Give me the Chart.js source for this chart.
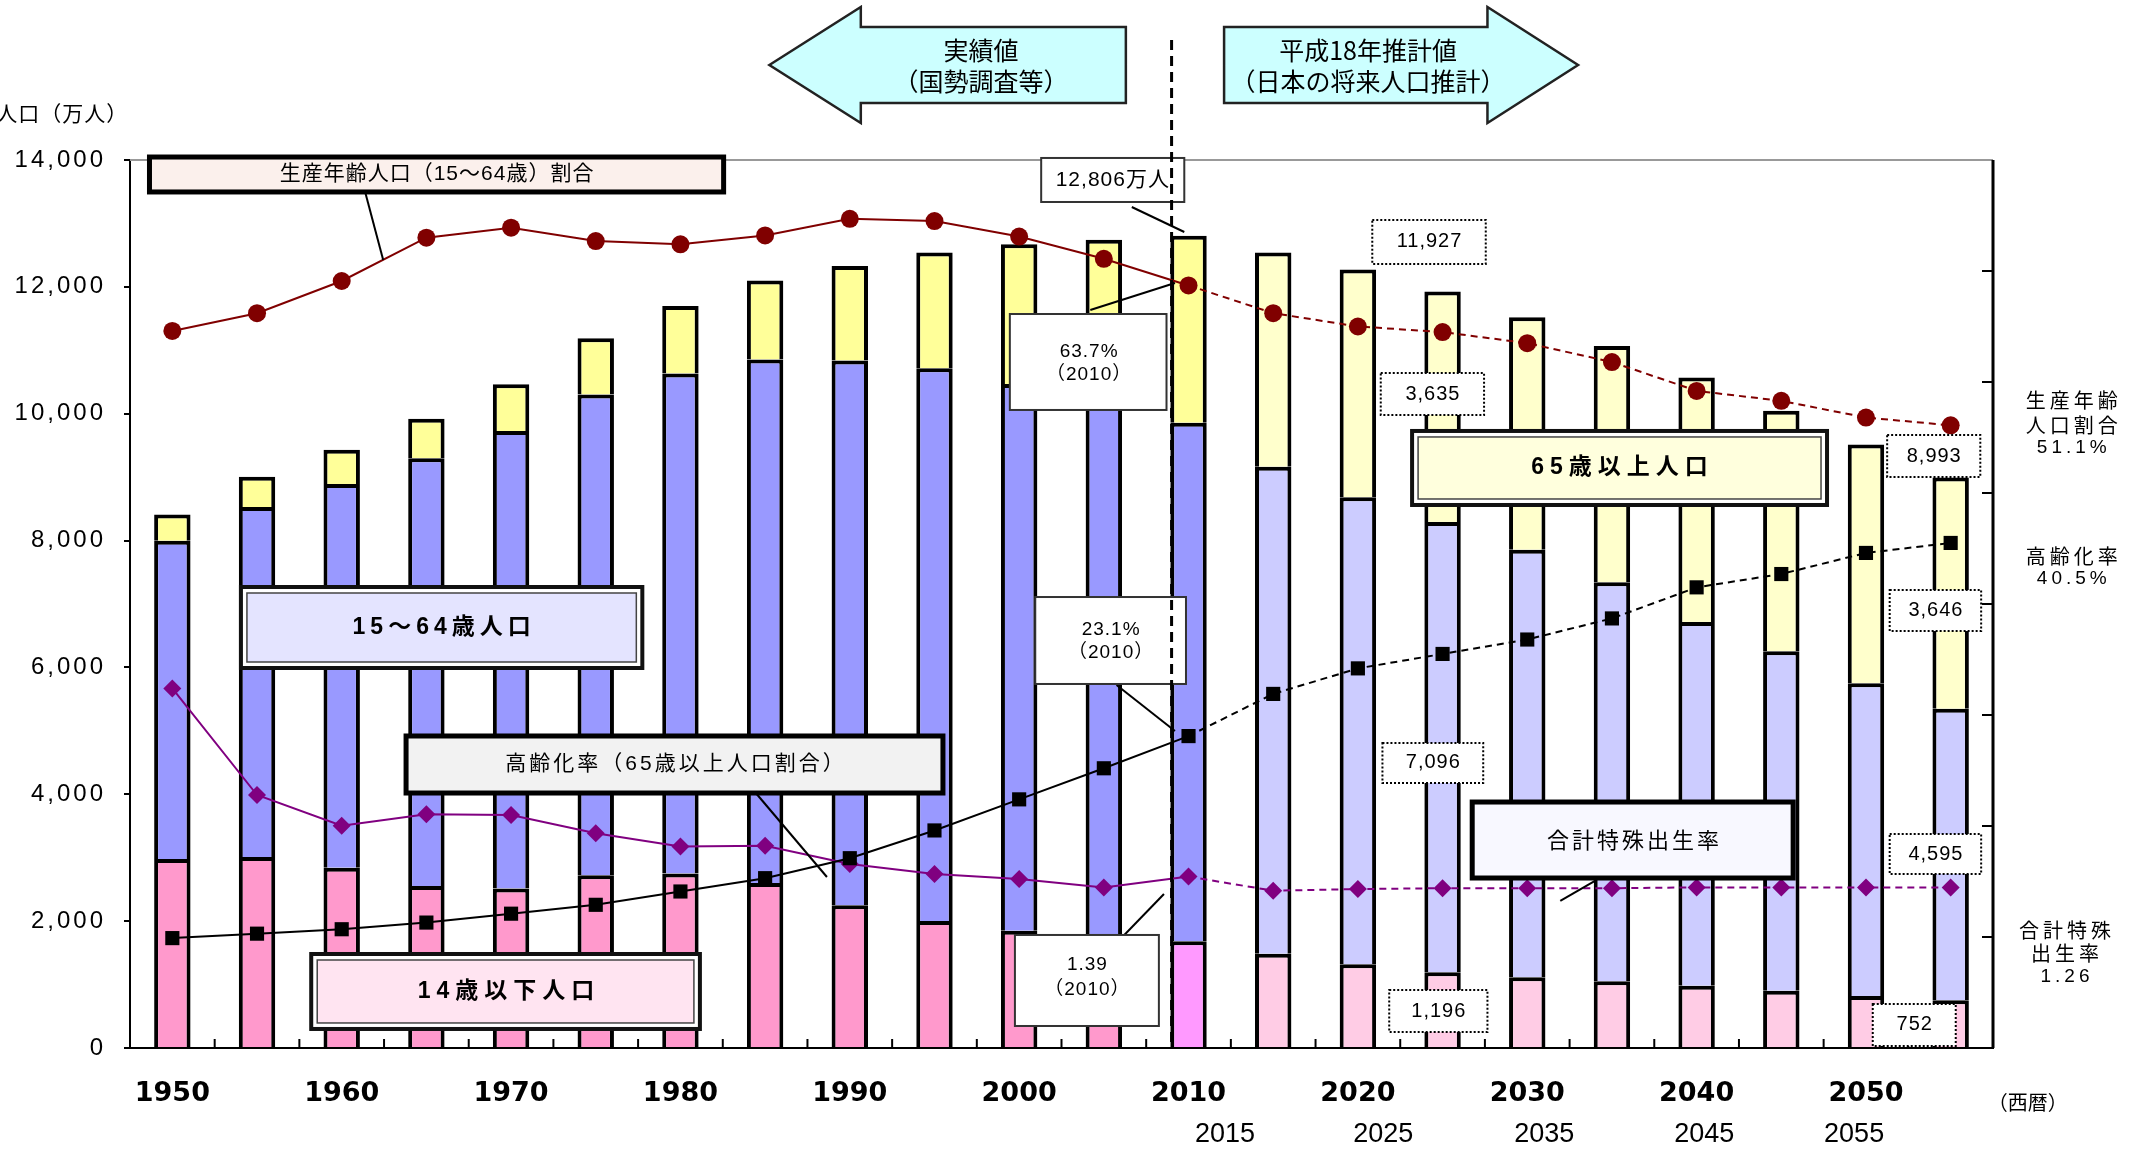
<!DOCTYPE html>
<html lang="ja">
<head>
<meta charset="utf-8">
<script src="https://cdn.jsdelivr.net/npm/chart.js@4.4.1/dist/chart.umd.min.js"></script>
<style>
  html, body { margin: 0; padding: 0; background: #fff; }
  #chart { display: block; }
</style>
</head>
<body>
<canvas id="chart" width="2132" height="1153"></canvas>
<script>
// 年次（5年ごと）
const years = [1950, 1955, 1960, 1965, 1970, 1975, 1980, 1985, 1990, 1995, 2000,
  2005, 2010, 2015, 2020, 2025, 2030, 2035, 2040, 2045, 2050, 2055];

// 人口（万人）
const pop0to14 = [2979, 3012, 2843, 2553, 2515, 2722, 2751, 2603, 2249, 2001, 1847,
  1759, 1684, 1484, 1320, 1196, 1115, 1051, 983, 904, 821, 752];
const pop15to64 = [5017, 5517, 6047, 6744, 7212, 7581, 7884, 8251, 8590, 8716, 8622,
  8409, 8173, 7681, 7364, 7096, 6740, 6292, 5734, 5353, 4930, 4595];
const pop65over = [416, 479, 540, 624, 739, 887, 1065, 1247, 1489, 1826, 2204,
  2576, 2948, 3378, 3590, 3635, 3667, 3725, 3853, 3788, 3764, 3646];

// 割合（％）と合計特殊出生率
const workingShare = [59.6, 61.2, 64.1, 68.0, 68.9, 67.7, 67.4, 68.2, 69.7, 69.5, 68.1,
  66.1, 63.7, 61.2, 60.0, 59.5, 58.5, 56.8, 54.2, 53.3, 51.8, 51.1];
const agingRate = [4.9, 5.3, 5.7, 6.3, 7.1, 7.9, 9.1, 10.3, 12.1, 14.6, 17.4,
  20.2, 23.1, 26.9, 29.2, 30.5, 31.8, 33.7, 36.5, 37.7, 39.6, 40.5];
const fertility = [3.65, 2.37, 2.00, 2.14, 2.13, 1.91, 1.75, 1.76, 1.54, 1.42, 1.36,
  1.26, 1.39, 1.22, 1.24, 1.25, 1.25, 1.25, 1.26, 1.26, 1.26, 1.26];

// 2段目の年ラベル
const lowerYears = [2015, 2025, 2035, 2045, 2055];

const LAST_ACTUAL = 2005;
const CENSUS = 2010;

const JP = '"Noto Sans CJK JP", sans-serif';
const MIX = '"Liberation Sans", "Noto Sans CJK JP", sans-serif';

// 実績・2010年・推計で色を変える
function colorsFor(actual, census, future) {
  return years.map(yr => yr <= LAST_ACTUAL ? actual : (yr === CENSUS ? census : future));
}

const dashAfter2010 = c => years[c.p0DataIndex] >= CENSUS ? [7, 5] : undefined;

// 注記（位置は x=カテゴリ番号, v=人口（万人）の座標）
const overlay = {
  id: 'overlay',
  afterDatasetsDraw(chart) {
    const { ctx, chartArea: a } = chart;
    const xs = chart.scales.x, ys = chart.scales.y, yp = chart.scales.yp;
    const X = v => xs.getPixelForValue(v);
    const Y = v => ys.getPixelForValue(v);

    function text(str, xi, v, font, opt = {}) {
      ctx.save();
      ctx.font = font;
      ctx.fillStyle = opt.color || '#000';
      ctx.textAlign = opt.align || 'center';
      ctx.textBaseline = 'middle';
      let px = X(xi);
      if (opt.spacing) {
        ctx.letterSpacing = opt.spacing + 'px';
        if ((opt.align || 'center') === 'center') px += opt.spacing / 2;
      }
      ctx.fillText(str, px, Y(v));
      ctx.restore();
    }

    function line(x0, v0, x1, v1, w = 2, dash = []) {
      ctx.save();
      ctx.strokeStyle = '#000';
      ctx.lineWidth = w;
      ctx.setLineDash(dash);
      ctx.beginPath();
      ctx.moveTo(X(x0), Y(v0));
      ctx.lineTo(X(x1), Y(v1));
      ctx.stroke();
      ctx.restore();
    }

    function box(x0, x1, vTop, vBot, kind, fill) {
      const l = X(x0), r = X(x1), t = Y(vTop), b = Y(vBot);
      ctx.save();
      if (kind === 'double') {
        ctx.fillStyle = '#fff';
        ctx.fillRect(l, t, r - l, b - t);
        ctx.strokeStyle = '#111';
        ctx.lineWidth = 4;
        ctx.strokeRect(l, t, r - l, b - t);
        ctx.fillStyle = fill;
        ctx.fillRect(l + 6, t + 6, r - l - 12, b - t - 12);
        ctx.strokeStyle = '#444';
        ctx.lineWidth = 1.5;
        ctx.strokeRect(l + 6, t + 6, r - l - 12, b - t - 12);
      } else if (kind === 'thick') {
        ctx.fillStyle = fill;
        ctx.fillRect(l, t, r - l, b - t);
        ctx.strokeStyle = '#000';
        ctx.lineWidth = 5;
        ctx.strokeRect(l, t, r - l, b - t);
      } else if (kind === 'dotted') {
        ctx.fillStyle = '#fff';
        ctx.fillRect(l, t, r - l, b - t);
        ctx.strokeStyle = '#000';
        ctx.lineWidth = 2;
        ctx.setLineDash([2, 2]);
        ctx.strokeRect(l, t, r - l, b - t);
      } else {
        ctx.fillStyle = '#fff';
        ctx.fillRect(l, t, r - l, b - t);
        ctx.strokeStyle = '#333';
        ctx.lineWidth = 2;
        ctx.strokeRect(l, t, r - l, b - t);
      }
      ctx.restore();
    }

    function poly(pts) {
      ctx.save();
      ctx.beginPath();
      pts.forEach(([xi, v], i) => i ? ctx.lineTo(X(xi), Y(v)) : ctx.moveTo(X(xi), Y(v)));
      ctx.closePath();
      ctx.fillStyle = '#CCFFFF';
      ctx.fill();
      ctx.strokeStyle = '#222';
      ctx.lineWidth = 2.5;
      ctx.stroke();
      ctx.restore();
    }

    // 枠線（上は灰色、右は黒）と目盛り
    ctx.save();
    ctx.strokeStyle = '#999';
    ctx.lineWidth = 2;
    ctx.beginPath();
    ctx.moveTo(a.left, a.top);
    ctx.lineTo(a.right, a.top);
    ctx.stroke();
    ctx.strokeStyle = '#000';
    ctx.lineWidth = 3;
    ctx.beginPath();
    ctx.moveTo(a.right, a.top);
    ctx.lineTo(a.right, a.bottom);
    ctx.stroke();
    ctx.lineWidth = 2;
    for (let p = 5; p < 75; p += 10) {
      const py = yp.getPixelForValue(p);
      ctx.beginPath();
      ctx.moveTo(a.right, py);
      ctx.lineTo(a.right - 11, py);
      ctx.stroke();
    }
    for (let i = 0; i < years.length - 1; i++) {
      const px = X(i + 0.5);
      ctx.beginPath();
      ctx.moveTo(px, a.bottom);
      ctx.lineTo(px, a.bottom - 9);
      ctx.stroke();
    }
    ctx.restore();

    // 縦軸の目盛りラベル（字間を空ける）
    ctx.save();
    ctx.font = '24px "Liberation Sans", sans-serif';
    ctx.letterSpacing = '3px';
    ctx.fillStyle = '#000';
    ctx.textAlign = 'right';
    ctx.textBaseline = 'middle';
    ys.ticks.forEach(t => {
      ctx.fillText(t.value.toLocaleString('en-US'), a.left - 24, ys.getPixelForValue(t.value));
    });
    ctx.restore();

    // 上部の矢印
    poly([[7.05, 15498], [8.13, 16412], [8.13, 16097], [11.26, 16097],
      [11.26, 14899], [8.13, 14899], [8.13, 14583]]);
    text('実績値', 9.55, 15734, '25px ' + JP);
    text('（国勢調査等）', 9.55, 15230, '25px ' + JP);
    poly([[12.42, 16097], [15.53, 16097], [15.53, 16412], [16.6, 15498],
      [15.53, 14583], [15.53, 14899], [12.42, 14899]]);
    text('平成18年推計値', 14.12, 15734, '25px ' + JP);
    text('（日本の将来人口推計）', 14.12, 15230, '25px ' + JP);

    text('人口（万人）', -2.08, 14741, '21px ' + JP, { align: 'left', spacing: 1 });
    text('（西暦）', 21.91, -851, '20px ' + JP);

    // 系列名の枠
    line(2.28, 13480, 2.49, 12423);
    box(-0.27, 6.51, 14047, 13496, 'thick', '#FBF0EC');
    text('生産年齢人口（15～64歳）割合', 3.12, 13772, '21px ' + MIX, { spacing: 1 });

    box(0.81, 5.55, 7268, 5991, 'double', '#E4E4FF');
    text('15～64歳人口', 3.18, 6630, 'bold 23px ' + MIX, { spacing: 5 });

    line(6.88, 4036, 7.73, 2696);
    box(2.76, 9.10, 4919, 4020, 'thick', '#F2F2F2');
    text('高齢化率（65歳以上人口割合）', 5.93, 4470, '21px ' + MIX, { spacing: 3 });

    box(1.64, 6.23, 1482, 300, 'double', '#FFE4F1');
    text('14歳以下人口', 3.94, 891, 'bold 23px ' + MIX, { spacing: 6 });

    box(14.64, 19.54, 9728, 8561, 'double', '#FFFFDD');
    text('65歳以上人口', 17.09, 9145, 'bold 23px ' + MIX, { spacing: 6 });

    line(16.82, 2649, 16.39, 2318);
    box(15.35, 19.14, 3878, 2680, 'thick', '#F8F8FF');
    text('合計特殊出生率', 17.25, 3279, '22px ' + JP, { spacing: 3 });

    // 2010年の値
    line(11.33, 13259, 11.95, 12865);
    box(10.26, 11.95, 14032, 13338, 'plain');
    text('12,806万人', 11.1, 13685, '21px ' + MIX, { spacing: 1 });

    line(10.84, 11635, 11.84, 12061);
    box(9.89, 11.74, 11572, 10059, 'plain');
    text('63.7%', 10.82, 10973, '19px ' + MIX, { spacing: 1 });
    text('（2010）', 10.82, 10611, '19px ' + MIX, { spacing: 1 });

    line(11.15, 5723, 11.84, 4998);
    box(10.19, 11.97, 7110, 5739, 'plain');
    text('23.1%', 11.08, 6590, '19px ' + MIX, { spacing: 1 });
    text('（2010）', 11.08, 6227, '19px ' + MIX, { spacing: 1 });

    line(11.23, 1766, 11.71, 2428);
    box(9.95, 11.65, 1782, 347, 'plain');
    text('1.39', 10.8, 1309, '19px ' + MIX, { spacing: 1 });
    text('（2010）', 10.8, 914, '19px ' + MIX, { spacing: 1 });

    // 推計値の数字
    const callouts = [
      ['11,927', 14.17, 15.51, 13054, 12361],
      ['3,635', 14.27, 15.49, 10642, 9980],
      ['8,993', 20.25, 21.35, 9665, 9002],
      ['3,646', 20.28, 21.36, 7221, 6574],
      ['7,096', 14.29, 15.48, 4809, 4178],
      ['4,595', 20.28, 21.36, 3374, 2743],
      ['1,196', 14.37, 15.53, 914, 252],
      ['752', 20.08, 21.06, 694, 32]
    ];
    callouts.forEach(([s, x0, x1, v0, v1]) => {
      box(x0, x1, v0, v1, 'dotted');
      text(s, (x0 + x1) / 2, (v0 + v1) / 2, '20px ' + MIX, { spacing: 1 });
    });

    // 右側の説明
    const side = { spacing: 4 };
    text('生産年齢', 22.43, 10216, '20px ' + JP, side);
    text('人口割合', 22.43, 9822, '20px ' + JP, side);
    text('51.1%', 22.43, 9460, '19px ' + MIX, side);
    text('高齢化率', 22.43, 7757, '20px ' + JP, side);
    text('40.5%', 22.43, 7394, '19px ' + MIX, side);
    text('合計特殊', 22.35, 1860, '20px ' + JP, side);
    text('出生率', 22.35, 1498, '20px ' + JP, side);
    text('1.26', 22.35, 1119, '19px ' + MIX, side);

    // 2段目の年
    const lowerPos = [12.43, 14.3, 16.2, 18.09, 19.86];
    lowerYears.forEach((yr, i) => text(String(yr), lowerPos[i], -1372, '27px "Liberation Sans", sans-serif'));

    // 実績と推計の境目
    line(11.8, 15892, 11.8, 0, 3, [10, 6]);
  }
};

new Chart(document.getElementById('chart'), {
  data: {
    labels: years,
    datasets: [
      {
        type: 'line', label: '生産年齢人口割合', data: workingShare, yAxisID: 'yp',
        borderColor: '#800000', backgroundColor: '#800000', borderWidth: 2,
        pointStyle: 'circle', pointRadius: 9, pointBorderWidth: 0,
        segment: { borderDash: dashAfter2010 }, order: 0
      },
      {
        type: 'line', label: '高齢化率', data: agingRate, yAxisID: 'yp',
        borderColor: '#000', backgroundColor: '#000', borderWidth: 2,
        pointStyle: 'rect', pointRadius: 10, pointBorderWidth: 0,
        segment: { borderDash: dashAfter2010 }, order: 0
      },
      {
        type: 'line', label: '合計特殊出生率', data: fertility, yAxisID: 'yt',
        borderColor: '#800080', backgroundColor: '#800080', borderWidth: 2,
        pointStyle: 'rectRot', pointRadius: 9, pointBorderWidth: 0,
        segment: { borderDash: dashAfter2010 }, order: 0
      },
      {
        type: 'bar', label: '14歳以下人口', data: pop0to14, yAxisID: 'y',
        backgroundColor: colorsFor('#FF99CC', '#FF99FF', '#FFCCE5'),
        borderColor: '#000', borderWidth: 4, order: 1
      },
      {
        type: 'bar', label: '15～64歳人口', data: pop15to64, yAxisID: 'y',
        backgroundColor: colorsFor('#9999FF', '#9999FF', '#CCCCFF'),
        borderColor: '#000', borderWidth: 4, order: 1
      },
      {
        type: 'bar', label: '65歳以上人口', data: pop65over, yAxisID: 'y',
        backgroundColor: colorsFor('#FFFF99', '#FFFF99', '#FFFFCC'),
        borderColor: '#000', borderWidth: 4, order: 1
      }
    ]
  },
  options: {
    responsive: false,
    animation: false,
    devicePixelRatio: 1,
    layout: { padding: { top: 160, right: 139, left: 0, bottom: 0 } },
    datasets: { bar: { barPercentage: 0.43, categoryPercentage: 1 } },
    plugins: { legend: { display: false }, tooltip: { enabled: false } },
    scales: {
      x: {
        stacked: true,
        offset: true,
        grid: { display: false, drawTicks: false },
        border: { display: true, color: '#000', width: 2 },
        ticks: {
          autoSkip: false, maxRotation: 0, padding: 30, color: '#000',
          font: { family: '"DejaVu Sans", sans-serif', weight: 'bold', size: 27 },
          callback: (v, i) => years[i] % 10 === 0 ? String(years[i]) : ''
        },
        afterFit: s => { s.height = 105; }
      },
      y: {
        stacked: true, min: 0, max: 14000,
        grid: { drawOnChartArea: false, tickLength: 6, color: '#000', lineWidth: 2 },
        border: { display: true, color: '#000', width: 2 },
        ticks: { stepSize: 2000, display: false },
        afterFit: s => { s.width = 130; }
      },
      yp: { display: false, min: -5, max: 75 },
      yt: { display: false, min: -0.67, max: 10 }
    }
  },
  plugins: [overlay]
});
</script>
</body>
</html>
